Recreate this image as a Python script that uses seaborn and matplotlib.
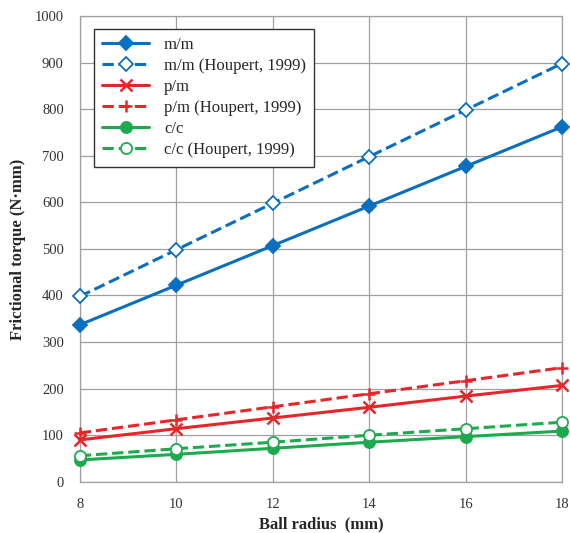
import matplotlib
matplotlib.use("Agg")
import matplotlib.pyplot as plt
import seaborn as sbn

# datos
radio = [8, 10, 12, 14, 16, 18]
mm = [337, 422, 507, 592, 677, 762]
mm_houpert = [398, 498, 598, 698, 798, 898]
pm = [90, 114, 137, 160, 184, 207]
pm_houpert = [105, 133, 161, 189, 217, 245]
cc = [47, 59, 72, 85, 97, 109]
cc_houpert = [56, 71, 85, 100, 114, 128]

sbn.set_style("whitegrid")
plt.rcParams['font.family'] = ['Liberation Serif', 'DejaVu Serif']

azul = "#0B6FC0"
rojo = "#E8262A"
verde = "#1DAA4F"

fig = plt.figure(figsize=(5.7, 5.33), dpi=100)
ax = fig.add_axes([0.14, 0.096, 0.846, 0.874])

series = [
    (mm, "m/m", azul, "-", "D", azul),
    (mm_houpert, "m/m (Houpert, 1999)", azul, "--", "D", "white"),
    (pm, "p/m", rojo, "-", "x", rojo),
    (pm_houpert, "p/m (Houpert, 1999)", rojo, "--", "+", rojo),
    (cc, "c/c", verde, "-", "o", verde),
    (cc_houpert, "c/c (Houpert, 1999)", verde, "--", "o", "white"),
]

for valores, nombre, color, estilo, marca, relleno in series:
    tam = 7 if marca == "D" else 9 if marca in ("x", "+") else 8
    sbn.lineplot(x=radio, y=valores, ax=ax, color=color, linestyle=estilo,
                 marker=marca, markersize=tam, markerfacecolor=relleno,
                 markeredgecolor=color, markeredgewidth=1.8 if marca in ("x", "+") else 1.3,
                 linewidth=2.2, label=nombre, clip_on=False, zorder=5)

ax.set_xlim(8, 18)
ax.set_ylim(0, 1000)
ax.set_xticks(radio)
ax.set_yticks(range(0, 1001, 100))
ax.grid(True, color="#A0A0A0", linewidth=0.9)
for s in ax.spines.values():
    s.set_color("#A0A0A0")
    s.set_linewidth(0.9)
ax.tick_params(labelsize=10.5, pad=8, labelcolor="#333333")
ax.set_xlabel("Ball radius  (mm)", fontsize=12, fontweight="bold", labelpad=4)
ax.set_ylabel("Frictional torque (N·mm)", fontsize=12, fontweight="bold", labelpad=6)

leg = ax.legend(loc="upper left", bbox_to_anchor=(0.012, 0.99), fontsize=12,
                fancybox=False, framealpha=1, edgecolor="#333333",
                handlelength=2.8, handletextpad=0.9, borderpad=0.5, labelspacing=0.3)
leg.get_frame().set_linewidth(1.0)
leg.set_zorder(10)

plt.savefig("out.png", dpi=100)
